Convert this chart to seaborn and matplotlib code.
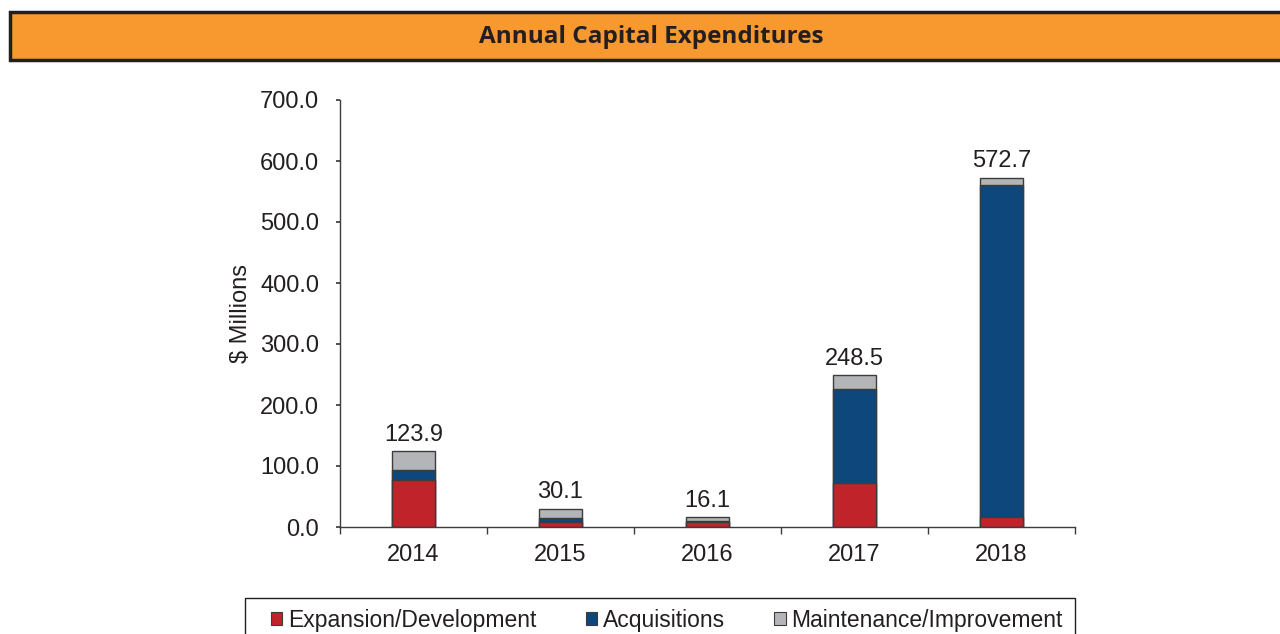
import numpy as np
import pandas as pd
import seaborn as sns
import matplotlib.pyplot as plt
from matplotlib.patches import Patch, Rectangle

# Datos
years = ['2014', '2015', '2016', '2017', '2018']
expansion = [77.0, 8.0, 9.0, 72.0, 17.0]
acquisitions = [17.0, 7.0, 1.0, 155.0, 543.0]
maintenance = [29.9, 15.1, 6.1, 21.5, 12.7]
totals = [123.9, 30.1, 16.1, 248.5, 572.7]

series_names = ['Expansion/Development', 'Acquisitions', 'Maintenance/Improvement']
colors = ['#C1232A', '#0E477C', '#B4B5B8']
edge = '#3C3C3C'
txt = '#231F20'

df = pd.DataFrame({'year': years, 'exp': expansion, 'acq': acquisitions, 'mnt': maintenance})
df['lvl1'] = df['exp']
df['lvl2'] = df['exp'] + df['acq']
df['lvl3'] = df['exp'] + df['acq'] + df['mnt']

sns.set_theme(style='white')
plt.rcParams['font.family'] = ['Liberation Sans', 'DejaVu Sans']

fig = plt.figure(figsize=(12.8, 6.34), dpi=100)
ax = fig.add_axes([340 / 1280, 1 - 527 / 634, 735 / 1280, 427 / 634])

# barras apiladas: de la mas alta a la mas baja
for col, c in zip(['lvl3', 'lvl2', 'lvl1'], colors[::-1]):
    sns.barplot(data=df, x='year', y=col, color=c, width=0.29,
                edgecolor=edge, linewidth=1.0, ax=ax, saturation=1)

# etiquetas de totales
for i, t in enumerate(totals):
    ax.text(i, df['lvl3'][i] + 9, f'{t:.1f}', ha='center', va='bottom',
            fontsize=17, color=txt)

ax.set_xlim(-0.5, 4.5)
ax.set_ylim(0, 700)
ax.set_yticks(np.arange(0, 701, 100))
ax.set_yticklabels([f'{v:.1f}' for v in np.arange(0, 701, 100)], fontsize=17, color=txt)
ax.set_xlabel('')
ax.set_ylabel('\\$ Millions', fontsize=17, color=txt, labelpad=6)
ax.tick_params(axis='x', which='major', length=0, labelsize=17, labelcolor=txt, pad=12)
ax.set_xticks(np.arange(-0.5, 5, 1), minor=True)
ax.tick_params(axis='x', which='minor', length=5, color=edge, direction='out', bottom=True)
ax.tick_params(axis='y', length=3, color=edge, direction='out', left=True, pad=12)

sns.despine(ax=ax)
for s in ['left', 'bottom']:
    ax.spines[s].set_color(edge)
    ax.spines[s].set_linewidth(1.0)

# banda del titulo
fig.patches.append(Rectangle((10 / 1280, 1 - 60 / 634), 1.0, 48 / 634,
                             transform=fig.transFigure, facecolor='#F7992E',
                             edgecolor=txt, linewidth=2.5, zorder=0))
fig.text(651 / 1280, 1 - 37 / 634, 'Annual Capital Expenditures', ha='center', va='center',
         fontsize=17.5, fontweight='bold', family='Open Sans', color=txt)

# leyenda (marco dibujado aparte, cortado por el borde inferior)
fig.patches.append(Rectangle((245 / 1280, -10 / 634), 830 / 1280, (634 - 598 + 10) / 634,
                             transform=fig.transFigure, facecolor='white',
                             edgecolor=txt, linewidth=1.0, zorder=0))
handles = [Patch(facecolor=c, edgecolor=edge, linewidth=0.8) for c in colors]
leg = fig.legend(handles, series_names, loc='center left',
                 bbox_to_anchor=(271 / 1280, 1 - 620 / 634), ncol=3,
                 fontsize=16.5, frameon=False, handlelength=0.5,
                 handleheight=0.5, handletextpad=0.25, columnspacing=2.15,
                 borderpad=0, borderaxespad=0)
for t in leg.get_texts():
    t.set_color(txt)

fig.savefig('out.png', dpi=100)
